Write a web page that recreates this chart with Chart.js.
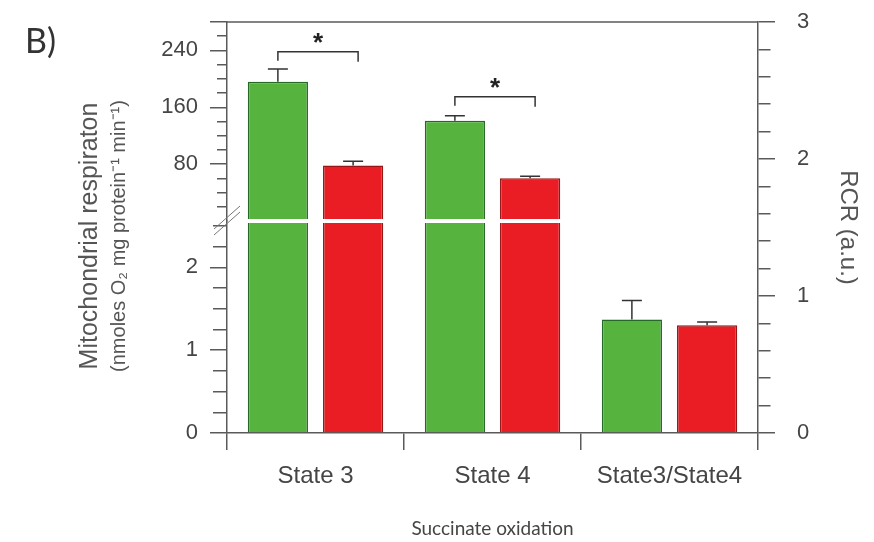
<!DOCTYPE html>
<html>
<head>
<meta charset="utf-8">
<script src="https://cdn.jsdelivr.net/npm/chart.js@4/dist/chart.umd.min.js"></script>
<style>
  html, body { margin: 0; padding: 0; background: #fff; }
  #wrap { width: 874px; height: 542px; }
</style>
</head>
<body>
<div id="wrap"><canvas id="chart" width="874" height="542"></canvas></div>
<script>
// Succinate oxidation: mitochondrial respiration (State 3, State 4) and RCR
const categories = ['State 3', 'State 4', 'State3/State4'];
const controlMean = [196, 141, 1.37];
const controlSem  = [18, 7, 0.23];
const treatedMean = [78, 60, 1.30];
const treatedSem  = [6, 3, 0.04];
// values read on the upper (broken) part of the left axis
const onUpperAxis = [true, true, false];
// significance brackets (height on the upper axis) and their marks
const bracketLevel = [238, 175, null];
const bracketMark  = ['*', '*', null];

const lowerTickLabels = [0, 1, 2];
const upperTickLabels = [80, 160, 240];
const rcrTickLabels   = [0, 1, 2, 3];

const AXIS = '#5a5a5a';
const TEXT = '#454545';
const SANS = "'Liberation Sans', Arial, sans-serif";
const GREEN = 'rgb(86,180,62)', GREEN_EDGE = 'rgb(38,104,38)';
const RED = 'rgb(234,28,36)', RED_EDGE = 'rgb(150,22,22)';

const near = (a, b) => Math.abs(a - b) < 1e-6;
const upperOnly = arr => arr.map((v, i) => onUpperAxis[i] ? v : null);

// fixed box width for a vertical axis; label overflow is handled by the page margins
function fixWidth(w) {
  return s => { s.width = w; s.paddingTop = 0; s.paddingBottom = 0; };
}

function barSet(label, data, axis, stack, fill, edge) {
  return {
    label, data, yAxisID: axis, stack,
    backgroundColor: fill, borderColor: edge, borderWidth: 1.5,
    categoryPercentage: 0.85, barPercentage: 0.8
  };
}

const decor = {
  id: 'decor',
  afterDatasetsDraw(chart) {
    const ctx = chart.ctx, area = chart.chartArea;
    const yLow = chart.scales.yLow, yHigh = chart.scales.yHigh;
    const breakY = yLow.top;

    // white gap where the bars cross the axis break
    ctx.save();
    ctx.fillStyle = '#ffffff';
    ctx.fillRect(area.left + 1, breakY - 2, area.right - area.left - 2, 4);
    ctx.restore();

    // error bars (mean + SEM)
    const groups = [
      { mean: controlMean, sem: controlSem, low: 0, high: 2 },
      { mean: treatedMean, sem: treatedSem, low: 1, high: 3 }
    ];
    ctx.save();
    ctx.strokeStyle = '#333';
    ctx.lineWidth = 1.5;
    groups.forEach(g => {
      g.mean.forEach((m, i) => {
        const upper = onUpperAxis[i];
        const scale = upper ? yHigh : yLow;
        const bar = chart.getDatasetMeta(upper ? g.high : g.low).data[i];
        const top = scale.getPixelForValue(m);
        const tip = scale.getPixelForValue(m + g.sem[i]);
        ctx.beginPath();
        ctx.moveTo(bar.x, top);
        ctx.lineTo(bar.x, tip);
        ctx.moveTo(bar.x - 10, tip);
        ctx.lineTo(bar.x + 10, tip);
        ctx.stroke();
      });
    });

    // significance brackets
    bracketLevel.forEach((lvl, i) => {
      if (lvl === null) return;
      const a = chart.getDatasetMeta(2).data[i];
      const b = chart.getDatasetMeta(3).data[i];
      const y = yHigh.getPixelForValue(lvl);
      ctx.beginPath();
      ctx.moveTo(a.x, y + 9);
      ctx.lineTo(a.x, y);
      ctx.lineTo(b.x + 5, y);
      ctx.lineTo(b.x + 5, y + 10);
      ctx.stroke();
      ctx.fillStyle = '#222';
      ctx.font = 'bold 26px ' + SANS;
      ctx.textAlign = 'center';
      ctx.textBaseline = 'middle';
      ctx.fillText(bracketMark[i], (a.x + b.x + 5) / 2, y - 8);
    });
    ctx.restore();
  },
  afterDraw(chart) {
    const ctx = chart.ctx, area = chart.chartArea;
    const breakY = chart.scales.yLow.top;
    ctx.save();
    // top frame
    ctx.strokeStyle = AXIS;
    ctx.lineWidth = 1.5;
    ctx.beginPath();
    ctx.moveTo(area.left, area.top);
    ctx.lineTo(area.right, area.top);
    ctx.stroke();

    // axis break marks
    ctx.lineWidth = 1;
    ctx.strokeStyle = '#777';
    [-3, 3].forEach(d => {
      ctx.beginPath();
      ctx.moveTo(area.left - 13, breakY + d + 11);
      ctx.lineTo(area.left + 13, breakY + d - 12);
      ctx.stroke();
    });

    // panel letter
    ctx.fillStyle = '#333';
    ctx.font = '34px Lato, ' + SANS;
    ctx.textAlign = 'left';
    ctx.textBaseline = 'alphabetic';
    ctx.fillText('B)', 25, 53);

    // left axis title, two lines
    ctx.fillStyle = '#555';
    ctx.textAlign = 'center';
    ctx.textBaseline = 'middle';
    ctx.translate(90, 236);
    ctx.rotate(-Math.PI / 2);
    ctx.font = '25px ' + SANS;
    ctx.fillText('Mitochondrial respiraton', 0, 0);
    ctx.font = '20px ' + SANS;
    ctx.fillText('(nmoles O\u2082 mg protein\u207B\u00B9 min\u207B\u00B9)', 0, 29);
    ctx.restore();
  }
};

new Chart(document.getElementById('chart'), {
  type: 'bar',
  data: {
    labels: categories,
    datasets: [
      barSet('Control', controlMean, 'yLow', 'control', GREEN, GREEN_EDGE),
      barSet('Treated', treatedMean, 'yLow', 'treated', RED, RED_EDGE),
      barSet('Control', upperOnly(controlMean), 'yHigh', 'control', GREEN, GREEN_EDGE),
      barSet('Treated', upperOnly(treatedMean), 'yHigh', 'treated', RED, RED_EDGE)
    ]
  },
  options: {
    responsive: false,
    animation: false,
    layout: { padding: { top: 22, left: 0, right: 0, bottom: 0 } },
    plugins: { legend: { display: false }, tooltip: { enabled: false }, title: { display: false } },
    scales: {
      x: {
        type: 'category',
        stacked: true,
        offset: true,
        grid: { offset: true, drawOnChartArea: false, tickLength: 17, color: AXIS, lineWidth: 1.5 },
        border: { display: true, color: AXIS, width: 1.5 },
        ticks: { font: { family: SANS, size: 24 }, color: TEXT, padding: 12, maxRotation: 0, autoSkip: false },
        title: {
          display: true, text: 'Succinate oxidation',
          font: { family: 'Lato, ' + SANS, size: 19 }, color: TEXT,
          padding: { top: 0, bottom: 2 }
        },
        afterFit(s) { s.height = 109; }
      },
      yLow: {
        type: 'linear', position: 'left', stack: 'left', stackWeight: 212, stacked: false,
        min: 0, max: 2.56,
        ticks: {
          stepSize: 0.25, includeBounds: false, autoSkip: false, padding: 12,
          font: { family: SANS, size: 22 }, color: TEXT,
          callback: v => lowerTickLabels.some(t => near(t, v)) ? String(Math.round(v)) : ''
        },
        grid: {
          drawOnChartArea: false, tickLength: 17, color: AXIS, lineWidth: 1.5,
          tickBorderDash: c => near(c.tick.value, Math.round(c.tick.value)) ? [] : [0, 3, 14, 100]
        },
        border: { color: AXIS, width: 1.5 },
        afterFit: fixWidth(227)
      },
      yHigh: {
        type: 'linear', position: 'left', stack: 'left', stackWeight: 199, stacked: false,
        min: 0, max: 280,
        ticks: {
          stepSize: 20, includeBounds: false, autoSkip: false, padding: 12,
          font: { family: SANS, size: 22 }, color: TEXT,
          callback: v => upperTickLabels.includes(v) ? String(v) : ''
        },
        grid: {
          drawOnChartArea: false, tickLength: 17, lineWidth: 1.5,
          color: c => c.tick && c.tick.value === 0 ? 'rgba(0,0,0,0)' : AXIS,
          tickColor: c => c.tick && c.tick.value === 0 ? 'rgba(0,0,0,0)' : AXIS,
          tickBorderDash: c => (c.tick.value % 80 === 0 || c.tick.value === 280) ? [] : [0, 7, 10, 100]
        },
        border: { color: AXIS, width: 1.5 },
        afterFit: fixWidth(227)
      },
      yR: {
        type: 'linear', position: 'right', min: 0, max: 3,
        ticks: {
          stepSize: 0.2, autoSkip: false, padding: 22,
          font: { family: SANS, size: 22 }, color: TEXT,
          callback: v => rcrTickLabels.some(t => near(t, v)) ? String(Math.round(v)) : ''
        },
        grid: {
          drawOnChartArea: false, tickLength: 17, color: AXIS, lineWidth: 1.5,
          tickBorderDash: c => near(c.tick.value, Math.round(c.tick.value)) ? [] : [12, 100]
        },
        border: { color: AXIS, width: 1.5 },
        title: {
          display: true, text: 'RCR (a.u.)',
          font: { family: SANS, size: 24 }, color: '#555',
          padding: { top: 12, bottom: 0 }
        },
        afterFit: fixWidth(116)
      }
    }
  },
  plugins: [decor]
});
</script>
</body>
</html>
